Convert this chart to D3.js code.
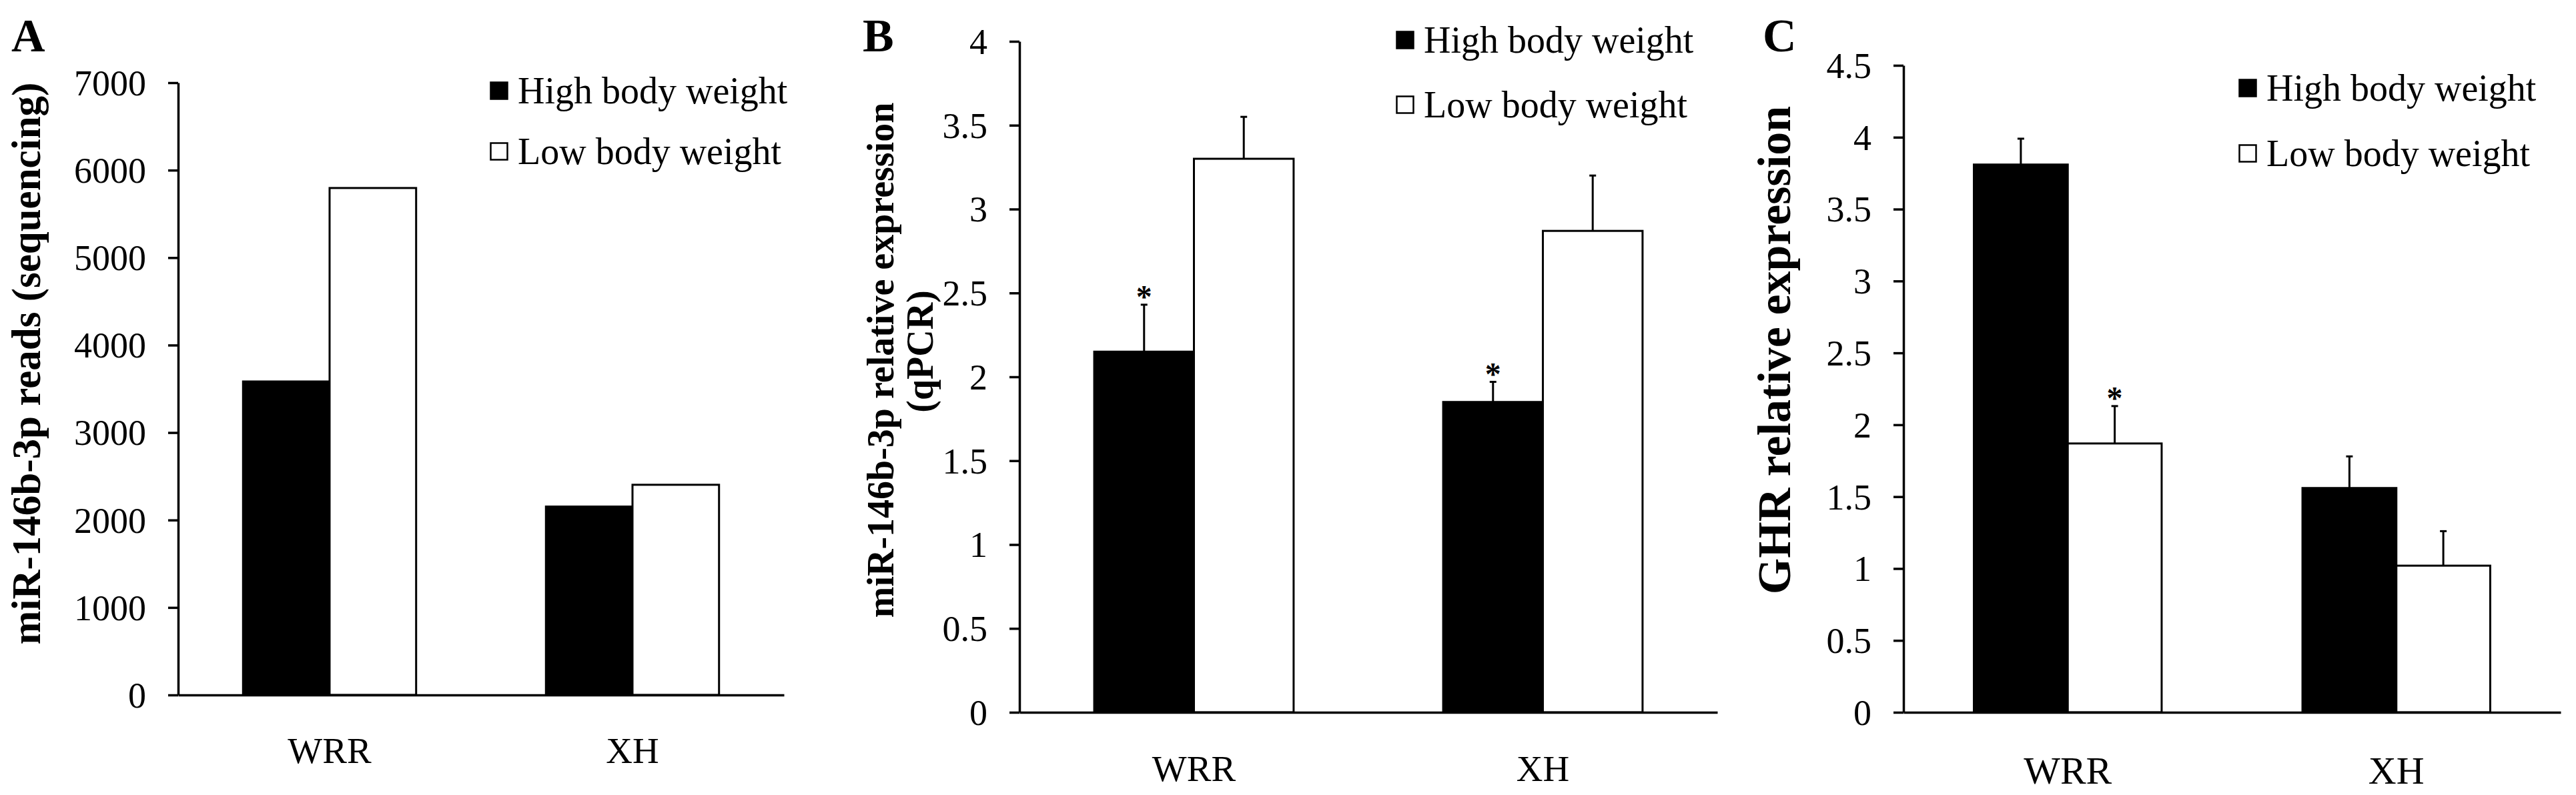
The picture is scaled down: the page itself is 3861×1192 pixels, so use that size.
<!DOCTYPE html>
<html>
<head>
<meta charset="utf-8">
<script src="https://cdn.jsdelivr.net/npm/d3@7"></script>
<style>
  body { margin: 0; background: #fff; }
  text { font-family: "Liberation Serif", "Times New Roman", serif; fill: #000; }
</style>
</head>
<body>
<div id="chart"></div>
<script>
// ---- data ----
const CATEGORIES = ["WRR", "XH"];
const SERIES = ["High body weight", "Low body weight"];

// panel A: sequencing reads
const READS_HIGH = [3584, 2154];
const READS_LOW = [5796, 2403];
const READS_TICKS = [0, 1000, 2000, 3000, 4000, 5000, 6000, 7000];

// panel B: miR-146b-3p qPCR
const QPCR_HIGH = [2.15, 1.85];
const QPCR_LOW = [3.30, 2.87];
const QPCR_HIGH_ERR = [0.28, 0.12];
const QPCR_LOW_ERR = [0.25, 0.33];
const QPCR_HIGH_SIG = [true, true];
const QPCR_LOW_SIG = [false, false];
const QPCR_TICKS = [0, 0.5, 1, 1.5, 2, 2.5, 3, 3.5, 4];

// panel C: GHR qPCR
const GHR_HIGH = [3.81, 1.56];
const GHR_LOW = [1.87, 1.02];
const GHR_HIGH_ERR = [0.18, 0.22];
const GHR_LOW_ERR = [0.26, 0.24];
const GHR_HIGH_SIG = [false, false];
const GHR_LOW_SIG = [true, false];
const GHR_TICKS = [0, 0.5, 1, 1.5, 2, 2.5, 3, 3.5, 4, 4.5];

// ---- layout ----
const FRAME_WIDTH = 3861;
const FRAME_HEIGHT = 1192;
const TICK_SIZE = 15;
const AXIS_STROKE = 3.5;

const PANELS = [
  {
    letter: "A", letterX: 17,
    x0: 267, x1: 1175, yZero: 1042, yTop: 124,
    ticks: READS_TICKS,
    values: [READS_HIGH, READS_LOW], errors: null, sig: null,
    labelLines: ["miR-146b-3p reads (sequencing)"],
    labelSize: 61, labelX: [60], labelY: [545],
    legendX: 734, legendY: [136, 227],
    catOffset: 102, catSize: 55
  },
  {
    letter: "B", letterX: 1293,
    x0: 1528, x1: 2574, yZero: 1068, yTop: 62,
    ticks: QPCR_TICKS,
    values: [QPCR_HIGH, QPCR_LOW], errors: [QPCR_HIGH_ERR, QPCR_LOW_ERR],
    sig: [QPCR_HIGH_SIG, QPCR_LOW_SIG],
    labelLines: ["miR-146b-3p relative expression", "(qPCR)"],
    labelSize: 56, labelX: [1339, 1398], labelY: [540, 527],
    legendX: 2092, legendY: [60, 157],
    catOffset: 103, catSize: 55
  },
  {
    letter: "C", letterX: 2642,
    x0: 2853, x1: 3838, yZero: 1068, yTop: 98,
    ticks: GHR_TICKS,
    values: [GHR_HIGH, GHR_LOW], errors: [GHR_HIGH_ERR, GHR_LOW_ERR],
    sig: [GHR_HIGH_SIG, GHR_LOW_SIG],
    labelLines: ["GHR relative expression"],
    labelSize: 70, labelX: [2683], labelY: [525],
    legendX: 3355, legendY: [132, 230],
    catOffset: 107, catSize: 58
  }
];

const FILLS = ["#000", "#fff"];

const svg = d3.select("#chart")
  .append("svg")
  .attr("width", FRAME_WIDTH)
  .attr("height", FRAME_HEIGHT);

PANELS.forEach((p) => {
  const g = svg.append("g");

  // scales
  const yScale = d3.scaleLinear()
    .domain([0, d3.max(p.ticks)])
    .range([p.yZero, p.yTop]);

  const xOuter = d3.scaleBand()
    .domain(CATEGORIES)
    .range([p.x0, p.x1])
    .padding(0);

  // excel style: gap width 150% -> bar = category / 3.5
  const xInner = d3.scaleBand()
    .domain(d3.range(SERIES.length))
    .range([0, xOuter.bandwidth()])
    .paddingInner(0)
    .paddingOuter(0.75);

  // rows of bar data built from the arrays
  const rows = [];
  CATEGORIES.forEach((c, ci) => {
    SERIES.forEach((s, si) => {
      rows.push({
        cat: c, series: si,
        value: p.values[si][ci],
        err: p.errors ? p.errors[si][ci] : null,
        sig: p.sig ? p.sig[si][ci] : false
      });
    });
  });

  // bars
  g.selectAll("rect.bar")
    .data(rows)
    .enter()
    .append("rect")
    .attr("class", "bar")
    .attr("x", (d) => xOuter(d.cat) + xInner(d.series))
    .attr("y", (d) => yScale(d.value))
    .attr("width", xInner.bandwidth())
    .attr("height", (d) => yScale(0) - yScale(d.value))
    .attr("fill", (d) => FILLS[d.series])
    .attr("stroke", "#000")
    .attr("stroke-width", 3);

  // error bars (upper half only)
  const errRows = rows.filter((d) => d.err !== null);
  const cx = (d) => xOuter(d.cat) + xInner(d.series) + xInner.bandwidth() / 2;

  g.selectAll("line.err")
    .data(errRows)
    .enter()
    .append("line")
    .attr("x1", cx).attr("x2", cx)
    .attr("y1", (d) => yScale(d.value))
    .attr("y2", (d) => yScale(d.value + d.err))
    .attr("stroke", "#000")
    .attr("stroke-width", 3);

  g.selectAll("line.cap")
    .data(errRows)
    .enter()
    .append("line")
    .attr("x1", (d) => cx(d) - 5).attr("x2", (d) => cx(d) + 5)
    .attr("y1", (d) => yScale(d.value + d.err))
    .attr("y2", (d) => yScale(d.value + d.err))
    .attr("stroke", "#000")
    .attr("stroke-width", 3);

  // significance stars
  g.selectAll("text.star")
    .data(errRows.filter((d) => d.sig))
    .enter()
    .append("text")
    .attr("x", cx)
    .attr("y", (d) => yScale(d.value + d.err) + 4)
    .attr("text-anchor", "middle")
    .attr("font-size", 48)
    .attr("font-weight", "bold")
    .text("*");

  // y axis
  const yAxis = g.append("g")
    .attr("transform", "translate(" + p.x0 + ",0)")
    .call(d3.axisLeft(yScale)
      .tickValues(p.ticks)
      .tickFormat((d) => String(d))
      .tickSize(TICK_SIZE)
      .tickSizeOuter(0)
      .tickPadding(33));
  yAxis.selectAll("path, line")
    .attr("stroke", "#000")
    .attr("stroke-width", AXIS_STROKE);
  yAxis.selectAll("text")
    .attr("font-size", 54)
    .attr("font-family", null)
    .attr("dy", "0.34em");
  yAxis.attr("font-family", null).attr("font-size", null);

  // x axis
  const xAxis = g.append("g")
    .attr("transform", "translate(0," + p.yZero + ")")
    .call(d3.axisBottom(xOuter).tickSize(0).tickSizeOuter(0));
  xAxis.select("path")
    .attr("stroke", "#000")
    .attr("stroke-width", AXIS_STROKE);
  xAxis.selectAll("text")
    .attr("y", p.catOffset)
    .attr("dy", 0)
    .attr("font-size", p.catSize);
  xAxis.attr("font-family", null).attr("font-size", null);

  // y axis title
  p.labelLines.forEach((line, i) => {
    g.append("text")
      .attr("transform", "translate(" + p.labelX[i] + "," + p.labelY[i] + ") rotate(-90)")
      .attr("text-anchor", "middle")
      .attr("font-size", p.labelSize)
      .attr("font-weight", "bold")
      .text(line);
  });

  // panel letter
  g.append("text")
    .attr("x", p.letterX)
    .attr("y", 77)
    .attr("font-size", 70)
    .attr("font-weight", "bold")
    .text(p.letter);

  // legend
  const legend = g.selectAll("g.legend")
    .data(SERIES)
    .enter()
    .append("g")
    .attr("transform", (d, i) => "translate(" + p.legendX + "," + p.legendY[i] + ")");
  legend.append("rect")
    .attr("x", 1.5).attr("y", -12.5)
    .attr("width", 25).attr("height", 25)
    .attr("fill", (d, i) => FILLS[i])
    .attr("stroke", "#000")
    .attr("stroke-width", 2.5);
  legend.append("text")
    .attr("x", 42)
    .attr("y", 19)
    .attr("font-size", 56)
    .text((d) => d);
});
</script>
</body>
</html>
